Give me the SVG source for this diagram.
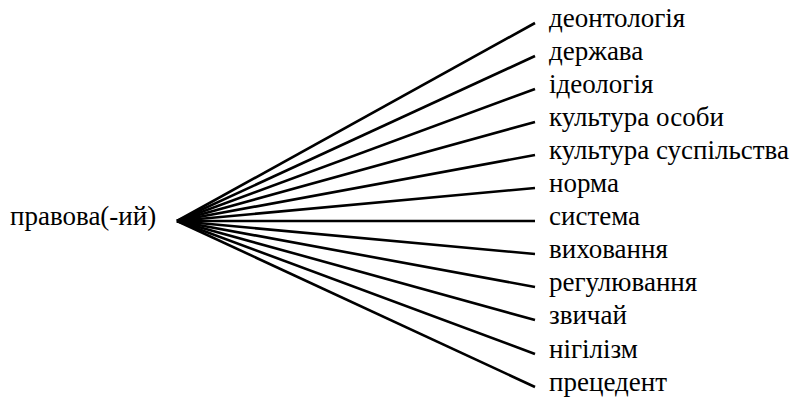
<svg xmlns="http://www.w3.org/2000/svg" width="802" height="399" viewBox="0 0 802 399">
<style>
text{font-family:"Liberation Serif","Times New Roman",serif;font-size:27px;fill:#000}
.c line{stroke:#000;stroke-width:2.6;stroke-linecap:butt}
</style>
<rect width="802" height="399" fill="#fff"/>
<g class="c" id="connectors">
<line x1="177" y1="221" x2="535" y2="23"/>
<line x1="177" y1="221" x2="535" y2="56"/>
<line x1="177" y1="221" x2="535" y2="89"/>
<line x1="177" y1="221" x2="535" y2="122"/>
<line x1="177" y1="221" x2="535" y2="155"/>
<line x1="177" y1="221" x2="535" y2="188"/>
<line x1="177" y1="221" x2="535" y2="221"/>
<line x1="177" y1="221" x2="535" y2="254"/>
<line x1="177" y1="221" x2="535" y2="287"/>
<line x1="177" y1="221" x2="535" y2="320"/>
<line x1="177" y1="221" x2="535" y2="354"/>
<line x1="177" y1="221" x2="535" y2="387"/>
</g>
<g id="root"><text x="10" y="225">правова(-ий)</text></g>
<g id="n1"><text x="549" y="27">деонтологія</text></g>
<g id="n2"><text x="549" y="60">держава</text></g>
<g id="n3"><text x="549" y="93">ідеологія</text></g>
<g id="n4"><text x="549" y="126">культура особи</text></g>
<g id="n5"><text x="549" y="159">культура суспільства</text></g>
<g id="n6"><text x="549" y="192">норма</text></g>
<g id="n7"><text x="549" y="225">система</text></g>
<g id="n8"><text x="549" y="258">виховання</text></g>
<g id="n9"><text x="549" y="291">регулювання</text></g>
<g id="n10"><text x="549" y="324">звичай</text></g>
<g id="n11"><text x="549" y="358">нігілізм</text></g>
<g id="n12"><text x="549" y="391">прецедент</text></g>
</svg>
